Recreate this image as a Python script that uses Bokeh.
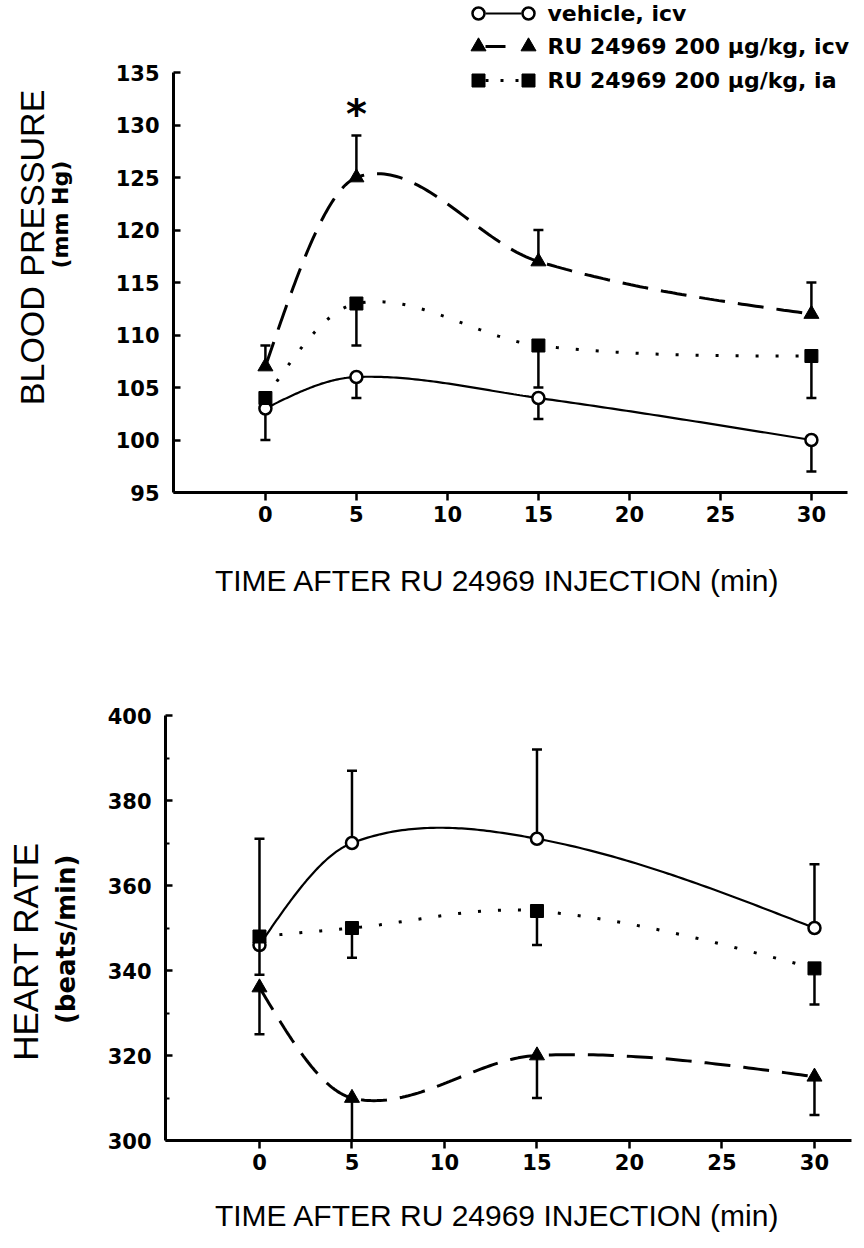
import numpy as np
from bokeh.plotting import figure
from bokeh.layouts import column, row
from bokeh.models import Range1d, FixedTicker, Label
from bokeh.embed import file_html
from bokeh.resources import INLINE

# ---------------- data ----------------
time = [0, 5, 15, 30]
x_ticks = [0, 5, 10, 15, 20, 25, 30]

bp_vehicle = [103, 106, 104, 100]
bp_vehicle_end = [100, 104, 102, 97]
bp_icv = [107, 125, 117, 112]
bp_icv_end = [109, 129, 120, 115]
bp_ia = [104, 113, 109, 108]
bp_ia_end = [104, 109, 105, 104]
bp_ticks = [95, 100, 105, 110, 115, 120, 125, 130, 135]
bp_star_time = [5]
bp_star_value = [131.6]

hr_vehicle = [346, 370, 371, 350]
hr_vehicle_end = [371, 387, 392, 365]
hr_icv = [336, 310, 320, 315]
hr_icv_end = [325, 300, 310, 306]
hr_ia = [348, 350, 354, 340.5]
hr_ia_end = [339, 343, 346, 332]
hr_ticks = [300, 320, 340, 360, 380, 400]
hr_minor = [310, 330, 350, 370, 390]

legend_labels = ["vehicle, icv", "RU 24969 200 \u03bcg/kg, icv", "RU 24969 200 \u03bcg/kg, ia"]
x_title = "TIME AFTER RU 24969 INJECTION (min)"

BOLD = "DejaVu Sans"
PLAIN = "Liberation Sans"
W = 860
LEFT_W = 100


def smooth(xs, ys, n=60):
    xs = np.asarray(xs, float)
    ys = np.asarray(ys, float)
    m = np.empty_like(ys)
    m[1:-1] = (ys[2:] - ys[:-2]) / (xs[2:] - xs[:-2])
    m[0] = (3 * (ys[1] - ys[0]) / (xs[1] - xs[0]) - m[1]) / 2
    m[-1] = (3 * (ys[-1] - ys[-2]) / (xs[-1] - xs[-2]) - m[-2]) / 2
    ox, oy = [], []
    t = np.linspace(0, 1, n)
    h00 = 2 * t**3 - 3 * t**2 + 1
    h10 = t**3 - 2 * t**2 + t
    h01 = -2 * t**3 + 3 * t**2
    h11 = t**3 - t**2
    for i in range(len(xs) - 1):
        h = xs[i + 1] - xs[i]
        ox.extend(xs[i] + t * h)
        oy.extend(h00 * ys[i] + h10 * h * m[i] + h01 * ys[i + 1] + h11 * h * m[i + 1])
    return ox, oy


def make_fig(width, height, left, top, bottom, x0, kx, y0, ky, ybounds):
    fw = width - left
    fh = height - top - bottom
    p = figure(width=width, height=height, output_backend="svg", toolbar_location=None,
               min_border_left=left, min_border_right=0, min_border_top=top,
               min_border_bottom=bottom,
               x_range=Range1d(x0, x0 + fw / kx), y_range=Range1d(y0, y0 + fh / ky))
    p.grid.visible = False
    p.outline_line_color = None
    p.background_fill_color = "white"
    p.border_fill_color = "white"
    p.xaxis.bounds = (x0, 32)
    p.yaxis.bounds = ybounds
    for ax in (p.xaxis, p.yaxis):
        ax.axis_line_width = 3
        ax.major_tick_line_width = 2.5
        ax.minor_tick_line_width = 2
        ax.major_label_text_font = BOLD
        ax.major_label_text_font_style = "bold"
        ax.major_label_text_font_size = "21px"
        ax.major_label_text_color = "black"
        ax.axis_line_color = "black"
        ax.major_tick_line_color = "black"
        ax.minor_tick_line_color = "black"
    p.xaxis.ticker = FixedTicker(ticks=x_ticks)
    p.xaxis.major_tick_out = 8
    p.xaxis.major_tick_in = 0
    p.xaxis.major_label_standoff = 5
    p.yaxis.major_tick_out = 0
    p.yaxis.major_tick_in = 7
    p.yaxis.minor_tick_out = 0
    p.yaxis.minor_tick_in = 4
    p.yaxis.major_label_standoff = 14
    return p


def blank(width, height):
    f = figure(width=width, height=height, output_backend="svg", toolbar_location=None,
               x_range=Range1d(0, width), y_range=Range1d(0, height),
               x_axis_location=None, y_axis_location=None, min_border=0)
    f.grid.visible = False
    f.outline_line_color = None
    f.background_fill_color = "white"
    f.border_fill_color = "white"
    return f


def put_text(f, x, y_from_top, txt, font, size, bold=False, angle=0.0):
    f.add_layout(Label(x=x, y=f.height - y_from_top, text=txt, angle=angle,
                       text_font=font, text_font_size=size,
                       text_font_style="bold" if bold else "normal", text_color="black",
                       text_align="center", text_baseline="middle"))


def draw_series(p, x, y, end, marker, size, dash, lw):
    cx, cy = smooth(x, y)
    p.line(cx, cy, line_color="black", line_width=lw, line_dash=dash)
    p.segment(x0=x, y0=y, x1=x, y1=end, line_color="black", line_width=2.5)
    p.scatter(x=x, y=end, marker="dash", size=10, line_color="black", line_width=2.5)
    if marker == "circle":
        p.scatter(x=x, y=y, marker="circle", size=size, fill_color="white",
                  line_color="black", line_width=2.5)
    else:
        p.scatter(x=x, y=y, marker=marker, size=size, fill_color="black",
                  line_color="black", line_width=1)


SOLID = "solid"
DASH = "26 13"
DOT = "3 17"

# ---------------- blood pressure ----------------
BP_H, BP_LEFT, BP_BOTTOM = 540, 73, 48
BP_X0, BP_KX, BP_Y0, BP_KY = -5.05, 18.2, 95, 10.5
bp = make_fig(W - LEFT_W, BP_H, BP_LEFT, 0, BP_BOTTOM, BP_X0, BP_KX, BP_Y0, BP_KY, (95, 135))
bp.yaxis.ticker = FixedTicker(ticks=bp_ticks)


def bpx(page_x):
    return BP_X0 + (page_x - LEFT_W - BP_LEFT) / BP_KX


def bpy(page_y):
    return BP_Y0 + (BP_H - BP_BOTTOM - page_y) / BP_KY


draw_series(bp, time, bp_vehicle, bp_vehicle_end, "circle", 12, SOLID, 2.2)
draw_series(bp, time, bp_icv, bp_icv_end, "triangle", 15, DASH, 3)
draw_series(bp, time, bp_ia, bp_ia_end, "square", 13, DOT, 3)

bp.add_layout(Label(x=bp_star_time[0], y=bp_star_value[0] - 6 / BP_KY, text="*",
                    text_font=BOLD, text_font_style="bold", text_font_size="40px",
                    text_color="black", text_align="center", text_baseline="middle"))

# legend (page-pixel positions converted to data units)
leg_rows = [13, 46, 80]
mk_a, mk_b, txt_x = 478, 528, 547
styles = [("circle", 12, 2.2, "solid"), ("triangle", 15, 3, "20 30"),
          ("square", 13, 3, "3 12")]
for ry, (mk, sz, lw, ldash), lab in zip(leg_rows, styles, legend_labels):
    yy = bpy(ry)
    bp.line([bpx(mk_a + 7), bpx(mk_b - 7)], [yy, yy], line_color="black", line_width=lw,
            line_dash=ldash)
    if mk == "circle":
        bp.scatter([bpx(mk_a), bpx(mk_b)], [yy, yy], marker=mk, size=sz, fill_color="white",
                   line_color="black", line_width=2.5)
    else:
        bp.scatter([bpx(mk_a), bpx(mk_b)], [yy, yy], marker=mk, size=sz, fill_color="black",
                   line_color="black")
    bp.add_layout(Label(x=bpx(txt_x), y=yy, text=lab, text_font=BOLD, text_font_style="bold",
                        text_font_size="22px", text_color="black", text_align="left",
                        text_baseline="middle"))

bp_left = blank(LEFT_W, BP_H)
put_text(bp_left, 31, 271, "BLOOD PRESSURE", PLAIN, "34px", angle=np.pi / 2)
put_text(bp_left, 60, 235, "(mm Hg)", BOLD, "22px", bold=True, angle=np.pi / 2)

title1 = blank(W, 80)
put_text(title1, 497, 580 - BP_H, x_title, PLAIN, "30px")

# ---------------- heart rate ----------------
HR_TOP_PAGE = BP_H + 80
HR_H, HR_LEFT, HR_TOP, HR_BOTTOM = 560, 65, 95, 40
HR_X0, HR_KX, HR_Y0, HR_KY = -5.08, 18.5, 300, 4.25
hr = make_fig(W - LEFT_W, HR_H, HR_LEFT, HR_TOP, HR_BOTTOM, HR_X0, HR_KX, HR_Y0, HR_KY, (300, 400))
hr.yaxis.ticker = FixedTicker(ticks=hr_ticks, minor_ticks=hr_minor)

draw_series(hr, time, hr_vehicle, hr_vehicle_end, "circle", 12, SOLID, 2.2)
draw_series(hr, time, hr_icv, hr_icv_end, "triangle", 15, DASH, 3)
draw_series(hr, time, hr_ia, hr_ia_end, "square", 13, DOT, 3)

hr_left = blank(LEFT_W, HR_H)
put_text(hr_left, 25, 931 - HR_TOP_PAGE, "HEART RATE", PLAIN, "35px", angle=np.pi / 2)
put_text(hr_left, 65, 915 - HR_TOP_PAGE, "(beats/min)", BOLD, "26px", bold=True, angle=np.pi / 2)

title2 = blank(W, 64)
put_text(title2, 497, 1215 - HR_TOP_PAGE - HR_H, x_title, PLAIN, "30px")

layout = column(row(bp_left, bp, spacing=0), title1, row(hr_left, hr, spacing=0), title2,
                spacing=0)
open("out.html", "w").write(file_html(layout, INLINE))
